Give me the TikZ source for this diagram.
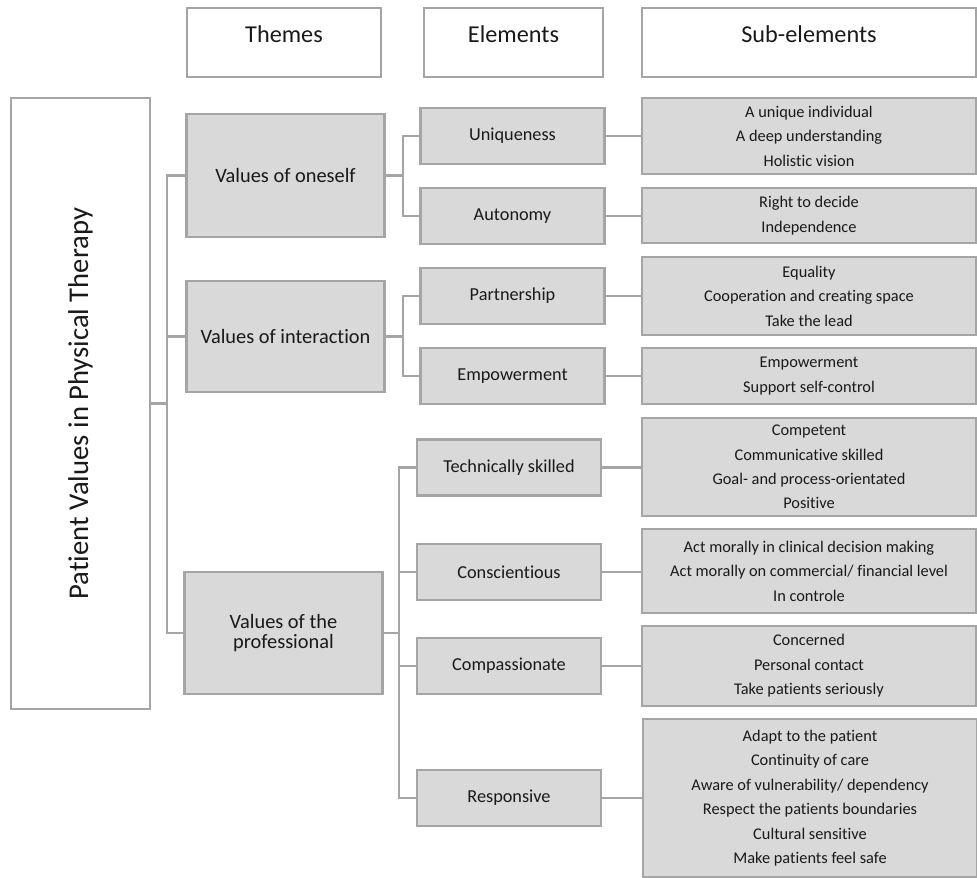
\documentclass[tikz,border=0pt]{standalone}
\usepackage{fontspec}
\setmainfont{Carlito}[Ligatures=NoCommon]
\definecolor{boxgray}{HTML}{D9D9D9}
\definecolor{linegray}{HTML}{A5A5A5}
\tikzset{
  headbox/.style={draw=linegray,line width=1.3pt,fill=white,inner sep=0pt,minimum height=1.38cm,
    text height=9.5pt,text depth=10pt,font=\fontsize{13.8}{16}\selectfont},
  themebox/.style={draw=linegray,line width=1.3pt,fill=boxgray,inner sep=0pt,minimum width=3.96cm,
    align=center,font=\fontsize{11.6}{11.8}\selectfont},
  elembox/.style={draw=linegray,line width=1.3pt,fill=boxgray,inner sep=0pt,minimum width=3.68cm,
    minimum height=1.12cm,font=\fontsize{10.4}{12}\selectfont},
  subbox/.style={draw=linegray,line width=1.3pt,fill=boxgray,inner sep=0pt,minimum width=6.68cm,
    align=center,font=\fontsize{9.3}{13.9}\selectfont},
  link/.style={draw=linegray,line width=1.2pt}
}
\begin{document}
\begin{tikzpicture}[x=0.02cm,y=-0.02cm,text=black!90]
\useasboundingbox (0,0) rectangle (977,877);
% column heads
\node[headbox,minimum width=3.88cm] (hthemes) at (284,42.5) {Themes};
\node[headbox,minimum width=3.58cm] (helems) at (513.5,42.5) {Elements};
\node[headbox,minimum width=6.68cm] (hsubs) at (809,42.5) {Sub-elements};
% root
\node[draw=linegray,line width=1.3pt,fill=white,inner sep=0pt,rotate=90,minimum width=12.22cm,
  minimum height=2.78cm,font=\fontsize{16.3}{18}\selectfont] (root) at (80.5,403.5)
  {Patient Values in Physical Therapy};
% themes
\node[themebox,minimum height=2.46cm] (self) at (285.5,175.5) {Values of oneself};
\node[themebox,minimum height=2.22cm] (inter) at (285.5,336.5) {Values of interaction};
\node[themebox,minimum height=2.44cm] (prof) at (283.5,633) {Values of the\\professional};
% elements
\node[elembox] (uni) at (512.5,136) {Uniqueness};
\node[elembox] (aut) at (512.5,216) {Autonomy};
\node[elembox] (par) at (512.5,296) {Partnership};
\node[elembox] (emp) at (512.5,376) {Empowerment};
\node[elembox] (tec) at (509,467.5) {Technically skilled};
\node[elembox] (con) at (509,572) {Conscientious};
\node[elembox] (com) at (509,666) {Compassionate};
\node[elembox] (res) at (509,798) {Responsive};
% sub-elements
\node[subbox,minimum height=1.52cm] (uni-s) at (809,136)
  {A unique individual\\A deep understanding\\Holistic vision};
\node[subbox,minimum height=1.10cm] (aut-s) at (809,215.5)
  {Right to decide\\Independence};
\node[subbox,minimum height=1.56cm] (par-s) at (809,296)
  {Equality\\Cooperation and creating space\\Take the lead};
\node[subbox,minimum height=1.12cm] (emp-s) at (809,376)
  {Empowerment\\Support self-control};
\node[subbox,minimum height=1.96cm] (tec-s) at (809,467)
  {Competent\\Communicative skilled\\Goal- and process-orientated\\Positive};
\node[subbox,minimum height=1.68cm] (con-s) at (809,571)
  {Act morally in clinical decision making\\Act morally on commercial/ financial level\\In controle};
\node[subbox,minimum height=1.60cm] (com-s) at (809,666)
  {Concerned\\Personal contact\\Take patients seriously};
\node[subbox,minimum height=3.16cm] (res-s) at (810,798)
  {Adapt to the patient\\Continuity of care\\Aware of vulnerability/ dependency\\Respect the patients boundaries\\Cultural sensitive\\Make patients feel safe};
% tree lines
\coordinate (rootfork) at (167,403.5);
\coordinate (selffork) at (403,175.5);
\coordinate (interfork) at (403,336.5);
\coordinate (proffork) at (399,633);
\draw[link] (root.south) -- (rootfork);
\foreach \t in {self,inter,prof}
\draw[link] (\t.west) -| (rootfork);
\draw[link] (self.east) -- (selffork);
\draw[link] (inter.east) -- (interfork);
\draw[link] (prof.east) -- (proffork);
\foreach \e in {uni,aut}
\draw[link] (\e.west) -| (selffork);
\foreach \e in {par,emp}
\draw[link] (\e.west) -| (interfork);
\foreach \e in {tec,con,com,res}
\draw[link] (\e.west) -| (proffork);
\foreach \e in {uni,aut,par,emp,tec,con,com,res}
\draw[link] (\e.east) -- (\e-s.west |- \e.east);
\end{tikzpicture}
\end{document}
